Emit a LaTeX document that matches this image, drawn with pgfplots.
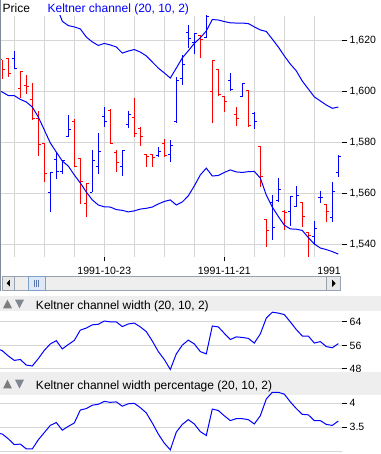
\documentclass[border=0pt]{standalone}
\usepackage{fontspec}
\setmainfont{Liberation Sans}
\usepackage{pgfplots}
\usepackage{pgfplotstable}
\pgfplotsset{compat=1.18}

\definecolor{barred}{RGB}{255,0,0}
\definecolor{barblue}{RGB}{0,0,255}
\definecolor{gridgray}{RGB}{214,214,214}
\definecolor{bandgray}{RGB}{238,238,238}
\definecolor{framegray}{RGB}{128,138,152}
\definecolor{trackgray}{RGB}{238,238,238}
\definecolor{trackborder}{RGB}{150,162,176}
\definecolor{btnfill}{RGB}{232,232,232}
\definecolor{thumbfill}{RGB}{222,232,246}
\definecolor{thumbborder}{RGB}{128,160,204}
\definecolor{thumbgrip}{RGB}{90,120,170}
\definecolor{triA}{RGB}{125,125,125}
\definecolor{triB}{RGB}{128,135,145}

\newcommand\ticklabfont{\fontsize{10.5bp}{12bp}\selectfont}
\newcommand\titlefont{\fontsize{12bp}{14bp}\selectfont}

% k High Low Open Close  (red bars)
\pgfplotstableread{
k H L O C
0 1612.5 1604.9 1612.5 1608.8
1 1613.4 1606.0 1613.1 1607.3
3 1608.2 1597.7 1601.1 1607.9
4 1606.6 1599.1 1602.4 1602.0
5 1603.3 1588.9 1596.8 1589.3
6 1592.6 1574.9 1589.3 1579.1
7 1579.8 1564.7 1579.7 1567.7
12 1589.3 1570.6 1588.2 1570.6
13 1573.9 1555.8 1573.6 1564.7
14 1563.8 1550.7 1555.9 1563.8
18 1593.1 1579.4 1592.8 1579.5
19 1577.1 1568.6 1576.2 1572.3
22 1597.7 1582.3 1590.0 1583.7
23 1586.3 1578.7 1585.6 1582.6
24 1575.5 1570.6 1575.3 1574.4
25 1575.5 1570.6 1575.4 1574.1
27 1581.4 1574.5 1579.8 1575.0
33 1622.3 1613.4 1622.0 1620.6
35 1612.5 1587.8 1600.0 1612.1
36 1609.0 1598.3 1608.8 1599.1
37 1598.5 1592.2 1598.1 1596.1
39 1593.9 1586.6 1590.9 1589.6
41 1600.7 1586.3 1600.4 1586.6
43 1578.7 1562.7 1578.4 1566.9
44 1549.9 1538.9 1549.9 1545.4
47 1553.5 1545.7 1553.1 1552.7
50 1556.8 1546.7 1556.6 1550.9
51 1545.0 1535.1 1544.8 1543.7
54 1555.9 1548.9 1555.8 1552.9
}\redbars

% blue bars
\pgfplotstableread{
k H L O C
2 1616.0 1608.8 1613.2 1609.2
8 1568.5 1552.6 1560.3 1568.4
9 1575.8 1565.6 1573.2 1568.7
10 1573.0 1567.7 1568.7 1572.8
11 1590.9 1582.3 1582.4 1585.3
15 1577.1 1560.6 1560.6 1573.0
16 1583.7 1567.6 1570.6 1576.5
17 1594.0 1586.3 1590.1 1588.5
20 1577.1 1567.0 1570.6 1576.8
21 1592.6 1585.6 1587.2 1590.9
26 1578.4 1574.5 1575.0 1576.7
28 1581.0 1572.5 1575.5 1578.9
29 1605.8 1587.8 1588.2 1604.6
30 1614.4 1602.5 1605.4 1610.9
31 1626.2 1617.3 1623.2 1621.0
32 1623.0 1614.7 1619.2 1623.0
34 1630.5 1621.0 1621.5 1629.5
38 1607.3 1600.4 1604.6 1600.7
40 1603.3 1598.1 1598.1 1603.1
42 1591.9 1585.3 1591.5 1588.5
45 1559.4 1541.7 1556.4 1546.7
46 1566.0 1556.8 1557.1 1561.4
48 1558.8 1547.3 1553.1 1558.7
49 1563.0 1554.8 1555.1 1559.4
52 1549.2 1539.8 1543.3 1546.3
53 1561.0 1556.4 1558.5 1558.5
55 1564.5 1548.9 1550.6 1560.9
56 1575.2 1566.6 1568.3 1574.5
}\bluebars

% k upper lower width percentage
\pgfplotstableread{
k U Lo W P
-1 1657.0 1601.1 55.0 3.38
0 1654.1 1599.9 54.2 3.36
1 1650.9 1598.5 52.4 3.26
2 1649.4 1598.5 50.9 3.14
3 1648.2 1597.0 51.2 3.15
4 1645.3 1596.0 49.3 3.05
5 1643.0 1594.0 49.0 3.05
6 1641.6 1590.1 51.5 3.24
7 1639.3 1585.0 54.3 3.39
8 1636.4 1579.9 56.5 3.54
9 1633.9 1576.3 57.6 3.60
10 1627.7 1572.8 54.8 3.44
11 1626.0 1570.8 56.3 3.52
12 1625.5 1567.3 57.7 3.59
13 1624.7 1564.2 61.2 3.86
14 1621.5 1560.6 61.9 3.89
15 1619.6 1557.5 63.0 3.96
16 1618.2 1555.5 63.2 3.98
17 1619.0 1554.8 64.3 4.04
18 1618.4 1554.7 64.0 4.02
19 1617.6 1553.7 64.0 4.03
20 1615.2 1553.4 62.4 3.94
21 1616.0 1552.8 63.3 3.99
22 1616.6 1553.2 63.6 4.00
23 1615.6 1553.9 62.3 3.91
24 1614.1 1554.2 60.7 3.80
25 1611.7 1554.7 57.5 3.59
26 1609.3 1555.9 53.9 3.36
27 1607.4 1556.9 51.2 3.17
28 1605.4 1557.5 47.8 3.03
29 1609.3 1555.5 53.1 3.40
30 1613.3 1556.7 56.1 3.56
31 1616.1 1559.1 57.8 3.66
32 1619.0 1563.0 56.5 3.57
33 1621.2 1567.3 53.9 3.41
34 1623.9 1570.0 53.1 3.33
35 1628.4 1566.9 62.6 3.88
36 1628.2 1567.1 62.3 3.85
37 1627.6 1568.3 60.1 3.74
38 1627.1 1569.3 58.0 3.64
39 1627.0 1568.5 58.9 3.68
40 1627.0 1568.3 58.7 3.68
41 1626.8 1568.6 58.4 3.66
42 1625.5 1568.7 56.8 3.57
43 1624.3 1566.1 59.9 3.74
44 1623.7 1559.4 65.3 4.09
45 1620.7 1554.7 67.3 4.23
46 1617.6 1551.0 67.0 4.23
47 1614.1 1547.6 66.5 4.19
48 1610.9 1546.1 64.0 4.03
49 1608.2 1546.0 61.4 3.89
50 1604.2 1545.5 59.2 3.77
51 1601.1 1542.7 59.2 3.76
52 1598.0 1540.2 56.8 3.64
53 1596.4 1538.6 57.3 3.64
54 1594.8 1538.0 55.6 3.56
55 1593.5 1537.2 55.2 3.54
56 1594.0 1536.2 56.6 3.63
}\channel

\pgfplotsset{
  common/.style={
    scale only axis, width=342bp,
    xmin=-0.3833, xmax=56.6167,
    axis line style={draw=none},
    tick style={black, line width=1bp},
    major tick length=4.5bp, minor tick length=0pt,
    tick align=outside,
    ytick pos=right, yticklabel pos=right,
    minor xtick={2,7,12,17,22,27,32,37,42,47,52},
    xminorgrids=true, xmajorgrids=false, ymajorgrids=true,
    grid style={gridgray, line width=1bp},
    minor grid style={gridgray, line width=1bp},
    yticklabel style={font=\ticklabfont, anchor=west, inner sep=0pt, xshift=3bp},
    /pgf/number format/assume math mode=true,
  },
  vbar/.style={only marks, mark=*, mark size=0pt,
    mark options={draw opacity=0, fill opacity=0}, forget plot,
    error bars/.cd, y dir=both, y explicit, error mark=none,
    error bar style={draw=#1, line width=1bp}},
  otick/.style={only marks, mark=*, mark size=0pt,
    mark options={draw opacity=0, fill opacity=0}, forget plot,
    error bars/.cd, x dir=minus, x fixed=0.42, error mark=none,
    error bar style={draw=#1, line width=1bp}},
  ctick/.style={only marks, mark=*, mark size=0pt,
    mark options={draw opacity=0, fill opacity=0}, forget plot,
    error bars/.cd, x dir=plus, x fixed=0.42, error mark=none,
    error bar style={draw=#1, line width=1bp}},
}
\tikzset{pix/.style={x=1bp, y=1bp, shift={(0,454)}, yscale=-1}}

\begin{document}
\begin{tikzpicture}
\useasboundingbox (0,0) rectangle (381bp,454bp);
\fill[white] (0,0) rectangle (381bp,454bp);

% ---------- main price panel ----------
\begin{scope}[shift={(0bp,197bp)}]
\begin{axis}[common,
  at={(0,0)}, anchor=south west, height=241bp,
  ymin=1535.07, ymax=1629.78,
  xtick={17,37}, xticklabels={1991-10-23,1991-11-21},
  xtick pos=left, xticklabel pos=left,
  xticklabel style={font=\ticklabfont, anchor=north, inner sep=0pt, yshift=-5.2bp},
  ytick={1540,1560,1580,1600,1620},
  yticklabels={{1,540},{1,560},{1,580},{1,600},{1,620}},
]
\addplot[vbar=barred] table[x=k, y expr={(\thisrow{H}+\thisrow{L})/2}, y error expr={(\thisrow{H}-\thisrow{L})/2}] {\redbars};
\addplot[otick=barred] table[x=k, y=O] {\redbars};
\addplot[ctick=barred] table[x=k, y=C] {\redbars};
\addplot[vbar=barblue] table[x=k, y expr={(\thisrow{H}+\thisrow{L})/2}, y error expr={(\thisrow{H}-\thisrow{L})/2}] {\bluebars};
\addplot[otick=barblue] table[x=k, y=O] {\bluebars};
\addplot[ctick=barblue] table[x=k, y=C] {\bluebars};
\addplot[barblue, line width=1bp, mark=none] table[x=k, y=U] {\channel};
\addplot[barblue, line width=1bp, mark=none] table[x=k, y=Lo] {\channel};
\end{axis}
\end{scope}

\begin{scope}[pix]
  \node[anchor=base west, inner sep=0pt, font=\titlefont] at (2.4,12.5) {Price};
  \node[anchor=base west, inner sep=0pt, font=\titlefont, text=barblue] at (47.4,12.5) {Keltner channel (20, 10, 2)};
  \begin{scope}
    \clip (0,258) rectangle (340.6,280);
    \node[anchor=north, inner sep=0pt, font=\ticklabfont] at (344.3,266.7) {1991-12-20};
  \end{scope}
  \draw[framegray, line width=1.2bp] (0.6,0) -- (0.6,291);
  \draw[fill=trackgray, draw=trackborder, line width=0.8bp] (2,276) rectangle (340.5,290.5);
  \draw[fill=btnfill, draw=trackborder, line width=0.8bp] (2,276) rectangle (14.5,290.5);
  \fill[black] (6.6,283.2) -- (9.9,279.8) -- (9.9,286.6) -- cycle;
  \draw[fill=thumbfill, draw=thumbborder, line width=0.8bp] (28.5,276) rectangle (45,290.5);
  \draw[thumbgrip, line width=0.7bp] (34.6,279.8)--(34.6,286.8) (36.4,279.8)--(36.4,286.8) (38.2,279.8)--(38.2,286.8);
  \draw[fill=btnfill, draw=trackborder, line width=0.8bp] (326,276) rectangle (340.5,290.5);
  \fill[black] (335.6,283.4) -- (332.2,279.8) -- (332.2,287) -- cycle;
  \fill[bandgray] (0,296.5) rectangle (381,311.5);
  \fill[triA] (3,308.3) -- (12,308.3) -- (7.5,299.6) -- cycle;
  \fill[triB] (15,299.6) -- (24,299.6) -- (19.5,308.3) -- cycle;
  \node[anchor=base west, inner sep=0pt, font=\titlefont] at (35.8,309.2) {Keltner channel width (20, 10, 2)};
\end{scope}

% ---------- width panel ----------
\begin{scope}[shift={(0bp,82.3bp)}]
\begin{axis}[common,
  at={(0,0)}, anchor=south west, height=60.2bp,
  ymin=47.05, ymax=67.54,
  xtick=\empty,
  ytick={48,56,64}, yticklabels={48,56,64},
  clip=false,
]
\addplot[barblue, line width=1bp, mark=none] table[x=k, y=W] {\channel};
\end{axis}
\end{scope}

\begin{scope}[pix]
  \fill[bandgray] (0,371.7) rectangle (381,395);
  \fill[triA] (3,388.5) -- (12,388.5) -- (7.5,379.6) -- cycle;
  \fill[triB] (15,379.6) -- (24,379.6) -- (19.5,388.5) -- cycle;
  \node[anchor=base west, inner sep=0pt, font=\titlefont] at (35.8,389.2) {Keltner channel width percentage (20, 10, 2)};
\end{scope}

% ---------- width percentage panel ----------
\begin{axis}[common,
  at={(0,0)}, anchor=south west, height=59bp,
  ymin=2.944, ymax=4.173,
  xtick=\empty,
  ytick={3.5,4}, yticklabels={3.5,4},
  extra y ticks={3}, extra y tick labels={},
  extra y tick style={major tick length=0pt},
  clip=false,
]
\addplot[barblue, line width=1bp, mark=none] table[x=k, y=P] {\channel};
\end{axis}
\end{tikzpicture}
\end{document}
